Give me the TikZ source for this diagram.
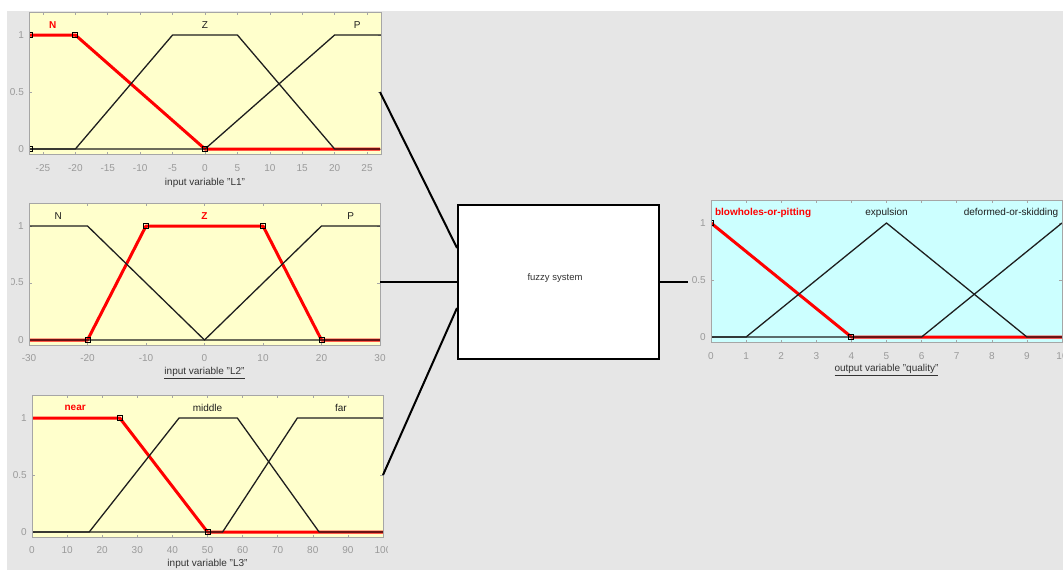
\documentclass[tikz,border=0pt]{standalone}
\usepackage{fontspec}
\setmainfont{Liberation Sans}
\usetikzlibrary{calc}
\definecolor{bggray}{HTML}{E6E6E6}
\definecolor{ylw}{HTML}{FFFFCC}
\definecolor{cyn}{HTML}{CCFFFF}
\definecolor{tickgray}{HTML}{9A9A9A}
\definecolor{axgray}{HTML}{A6A6A6}
\definecolor{mfblack}{HTML}{1E1E1E}
\tikzset{
  mf/.style={line width=1.3pt, draw=mfblack, line join=round},
  sel/.style={line width=3pt, draw=red, line join=round},
  mk/.style={line width=0.9pt, draw=black},
  axbox/.style={draw=axgray, line width=0.8pt},
  tk/.style={draw=axgray, line width=0.6pt},
  ticklbl/.style={text=tickgray, font=\fontsize{10}{12}\selectfont, inner sep=0pt},
  mflbl/.style={text=mfblack, font=\fontsize{10}{12}\selectfont, inner sep=0pt},
  sellbl/.style={text=red, font=\fontsize{10}{12}\selectfont\bfseries, inner sep=0pt},
  axlbl/.style={text=black!80, font=\fontsize{10}{12}\selectfont, inner sep=0pt},
  link/.style={line width=2pt, draw=black},
  fisbox/.style={draw=black, line width=2pt, fill=white, minimum width=201pt, minimum height=154pt, inner sep=0pt},
}
\newcommand\mksq[1]{\draw[mk] (#1) ++(-2.5pt,-2.5pt) rectangle ++(5pt,5pt);}
\begin{document}
\begin{tikzpicture}[x=1pt,y=-1pt]
\useasboundingbox (0,0) rectangle (1063,570);
\fill[white] (0,0) rectangle (1063,570);
\fill[bggray] (7,11) rectangle (1063,570);

% ---------- Panel L1 ----------
\begin{scope}[shift={(205,149)}, x=6.4815pt, y=114pt]
  \fill[ylw] (-27.15,-0.05) rectangle (27.15,1.2);
  \foreach \t in {-25,-20,...,25} {
    \draw[tk] (\t,-0.05) -- ++(0,3pt); \draw[tk] (\t,1.2) -- ++(0,-3pt);
  }
  \foreach \v in {0,0.5,1} {
    \draw[tk] (-27.15,\v) -- ++(3pt,0); \draw[tk] (27.15,\v) -- ++(-3pt,0);
  }
  \begin{scope}
    \clip (-27.15,-0.05) rectangle (27.15,1.2);
    \draw[sel] (-27,1) -- (-20,1) -- (0,0) -- (27,0);
    \draw[mf] (-27,0) -- (-20,0) -- (-5,1) -- (5,1) -- (20,0) -- (27,0);
    \draw[mf] (-27,0) -- (0,0) -- (20,1) -- (27.2,1);
    \mksq{-27,1} \mksq{-27,0} \mksq{-20,1} \mksq{0,0}
  \end{scope}
  \draw[axbox] (-27.15,-0.05) rectangle (27.15,1.2);
  \node[sellbl] (l1N) at (-23.5,1.09) {N};
  \node[mflbl] (l1Z) at (0,1.09) {Z};
  \node[mflbl] (l1P) at (23.5,1.09) {P};
  \foreach \t [count=\i] in {-25,-20,...,25}
    \node[ticklbl, yshift=-13pt] (l1x\i) at (\t,-0.05) {\t};
  \foreach \v [count=\i] in {0,0.5,1}
    \node[ticklbl, anchor=east, xshift=-5pt] (l1y\i) at (-27.15,\v) {\v};
  \node[axlbl, yshift=-28pt] (l1lab) at (0,-0.05) {input variable "L1"};
\end{scope}

% ---------- Panel L2 ----------
\begin{scope}[shift={(204.5,340)}, x=5.85pt, y=114pt]
  \fill[ylw] (-30,-0.05) rectangle (30,1.2);
  \foreach \t in {-30,-20,...,30} {
    \draw[tk] (\t,-0.05) -- ++(0,3pt); \draw[tk] (\t,1.2) -- ++(0,-3pt);
  }
  \foreach \v in {0,0.5,1} {
    \draw[tk] (-30,\v) -- ++(3pt,0); \draw[tk] (30,\v) -- ++(-3pt,0);
  }
  \begin{scope}
    \clip (-30,-0.05) rectangle (30,1.2);
    \draw[sel] (-30,0) -- (-20,0) -- (-10,1) -- (10,1) -- (20,0) -- (30,0);
    \draw[mf] (-30,1) -- (-20,1) -- (0,0) -- (30,0);
    \draw[mf] (-30,0) -- (0,0) -- (20,1) -- (30,1);
    \mksq{-20,0} \mksq{-10,1} \mksq{10,1} \mksq{20,0}
  \end{scope}
  \draw[axbox] (-30,-0.05) rectangle (30,1.2);
  \node[mflbl] (l2N) at (-25,1.09) {N};
  \node[sellbl] (l2Z) at (0,1.09) {Z};
  \node[mflbl] (l2P) at (25,1.09) {P};
  \foreach \t [count=\i] in {-30,-20,...,30}
    \node[ticklbl, yshift=-12.5pt] (l2x\i) at (\t,-0.05) {\t};
  \node[ticklbl, anchor=east, xshift=-5pt] (l2y1) at (-30,0) {0};
  \node[ticklbl, anchor=east, xshift=-5pt] (l2y3) at (-30,1) {1};
  \node[axlbl, yshift=-27pt] (l2lab) at (0,-0.05) {\underline{input variable "L2"}};
\end{scope}
\begin{scope}
  \clip (11.5,250) rectangle (40,300);
  \node[ticklbl, anchor=east] (l2y2) at (24,282) {0.5};
\end{scope}

% ---------- Panel L3 ----------
\begin{scope}[shift={(32,532)}, x=3.51pt, y=114pt]
  \fill[ylw] (0,-0.05) rectangle (100,1.2);
  \foreach \t in {0,10,...,100} {
    \draw[tk] (\t,-0.05) -- ++(0,3pt); \draw[tk] (\t,1.2) -- ++(0,-3pt);
  }
  \foreach \v in {0,0.5,1} {
    \draw[tk] (0,\v) -- ++(3pt,0); \draw[tk] (100,\v) -- ++(-3pt,0);
  }
  \begin{scope}
    \clip (0,-0.05) rectangle (100,1.2);
    \draw[sel] (0,1) -- (25,1) -- (50,0) -- (100,0);
    \draw[mf] (0,0) -- (16.3,0) -- (41.9,1) -- (58.5,1) -- (81.8,0) -- (100,0);
    \draw[mf] (0,0) -- (54.3,0) -- (75.6,1) -- (100,1);
    \mksq{25,1} \mksq{50,0}
  \end{scope}
  \draw[axbox] (0,-0.05) rectangle (100,1.2);
  \node[sellbl] (l3near) at (12.3,1.09) {near};
  \node[mflbl] (l3mid) at (50,1.09) {middle};
  \node[mflbl] (l3far) at (88,1.09) {far};
  \foreach \t [count=\i] in {0,10,...,90}
    \node[ticklbl, yshift=-12.5pt] (l3x\i) at (\t,-0.05) {\t};
  \begin{scope}
    \clip (90,-0.06) rectangle (101.4,-0.3);
    \node[ticklbl, yshift=-12.5pt] (l3x11) at (100,-0.05) {100};
  \end{scope}
  \foreach \v [count=\i] in {0,0.5,1}
    \node[ticklbl, anchor=east, xshift=-5pt] (l3y\i) at (0,\v) {\v};
  \node[axlbl, yshift=-27pt] (l3lab) at (50,-0.05) {\underline{input variable "L3"}};
\end{scope}

% ---------- Output panel ----------
\begin{scope}[shift={(711,337)}, x=35.1pt, y=114pt]
  \fill[cyn] (0,-0.05) rectangle (10,1.2);
  \foreach \t in {0,1,...,10} {
    \draw[tk] (\t,-0.05) -- ++(0,3pt); \draw[tk] (\t,1.2) -- ++(0,-3pt);
  }
  \foreach \v in {0,0.5,1} {
    \draw[tk] (0,\v) -- ++(3pt,0); \draw[tk] (10,\v) -- ++(-3pt,0);
  }
  \begin{scope}
    \clip (0,-0.05) rectangle (10,1.2);
    \draw[sel] (0,1) -- (4,0) -- (10,0);
    \draw[mf] (0,0) -- (1,0) -- (5,1) -- (9,0) -- (10,0);
    \draw[mf] (0,0) -- (6,0) -- (10,1);
    \mksq{0,1} \mksq{4,0}
  \end{scope}
  \draw[axbox] (0,-0.05) rectangle (10,1.2);
  \node[sellbl, anchor=west] (qblow) at (0.11,1.09) {blowholes-or-pitting};
  \node[mflbl] (qexp) at (5,1.09) {expulsion};
  \node[mflbl, anchor=east] (qdef) at (9.9,1.09) {deformed-or-skidding};
  \foreach \t [count=\i] in {0,1,...,10}
    \node[ticklbl, yshift=-13pt] (qx\i) at (\t,-0.05) {\t};
  \foreach \v [count=\i] in {0,0.5,1}
    \node[ticklbl, anchor=east, xshift=-5pt] (qy\i) at (0,\v) {\v};
  \node[axlbl, yshift=-27pt] (qlab) at (5,-0.05) {\underline{output variable "quality"}};
\end{scope}

% ---------- Fuzzy system and connectors ----------
\node[fisbox] (fis) at (558.5,282) {};
\node[axlbl, font=\fontsize{9.5}{11}\selectfont] (fistxt) at (555,278) {fuzzy system};
\coordinate (o1) at (380,92);
\coordinate (o2) at (380,282);
\coordinate (o3) at (383,475);
\coordinate (qin) at (688,282);
\coordinate (i1) at ($(fis.west)+(0,-34)$);
\coordinate (i3) at ($(fis.west)+(0,26)$);
\draw[link] (o1) -- (i1);
\draw[link] (o2) -- (fis.west);
\draw[link] (o3) -- (i3);
\draw[link] (fis.east) -- (qin);
\end{tikzpicture}
\end{document}
